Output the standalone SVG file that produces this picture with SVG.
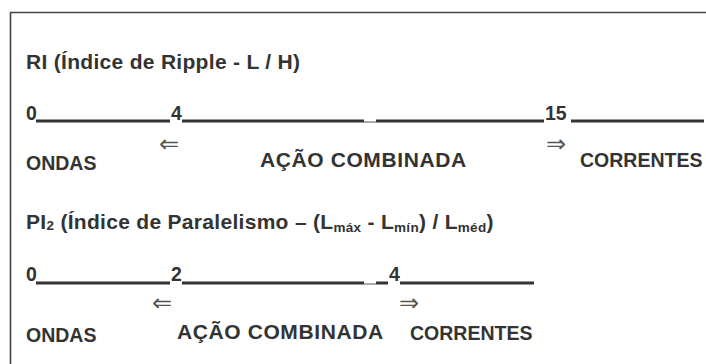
<svg xmlns="http://www.w3.org/2000/svg" width="706" height="364" viewBox="0 0 706 364">
<style>
text{font-family:"Liberation Sans",Arial,sans-serif;font-weight:bold;fill:#333;font-size:19.5px}
.t{font-size:21px;letter-spacing:0.3px}
.n{font-size:19.5px}
.c{font-size:21px;letter-spacing:0.6px}
.sub{font-size:13.5px;letter-spacing:0.3px}
.arr{font-family:"DejaVu Sans",sans-serif;font-weight:normal;font-size:24px;fill:#555}
.ln{stroke:#333;stroke-width:3;fill:none}
.gap{stroke:#aaa;stroke-width:2;fill:none}
</style>
<rect width="706" height="364" fill="#fff"/>
<path d="M10.5,364 V12.5 H706" stroke="#444" stroke-width="1.6" fill="none"/>
<g id="title-ri"><text class="t" x="26" y="69">RI (Índice de Ripple - L / H)</text></g>
<g id="scale-ri">
<text class="n" x="26" y="120">0</text>
<path class="ln" d="M36,121 H170"/>
<text class="n" x="171" y="120">4</text>
<path class="ln" d="M182,121 H364 M376,121 H544"/>
<path class="gap" d="M364,122 H376"/>
<text class="n" x="545" y="120">15</text>
<path class="ln" d="M571,121 H704"/>
</g>
<g id="labels-ri">
<text class="arr" x="159" y="152">⇐</text>
<text class="arr" x="546" y="152">⇒</text>
<text x="26" y="170">ONDAS</text>
<text class="c" x="260" y="167">AÇÃO COMBINADA</text>
<text x="580" y="167">CORRENTES</text>
</g>
<g id="title-pi"><text class="t" x="26" y="229">PI<tspan class="sub" dy="1">2</tspan><tspan dy="-1"> (Índice de Paralelismo – (L</tspan><tspan class="sub" dy="3">máx</tspan><tspan dy="-3"> - L</tspan><tspan class="sub" dy="3">mín</tspan><tspan dy="-3">) / L</tspan><tspan class="sub" dy="3">méd</tspan><tspan dy="-3">)</tspan></text></g>
<g id="scale-pi">
<text class="n" x="26" y="281">0</text>
<path class="ln" d="M36,283 H170"/>
<text class="n" x="171" y="281">2</text>
<path class="ln" d="M182,283 H364 M376,283 H388"/>
<path class="gap" d="M364,284 H376"/>
<text class="n" x="389" y="281">4</text>
<path class="ln" d="M400,283 H534"/>
</g>
<g id="labels-pi">
<text class="arr" x="152" y="311">⇐</text>
<text class="arr" x="399" y="311">⇒</text>
<text x="26" y="342">ONDAS</text>
<text class="c" x="177" y="339">AÇÃO COMBINADA</text>
<text x="410" y="340">CORRENTES</text>
</g>
</svg>
